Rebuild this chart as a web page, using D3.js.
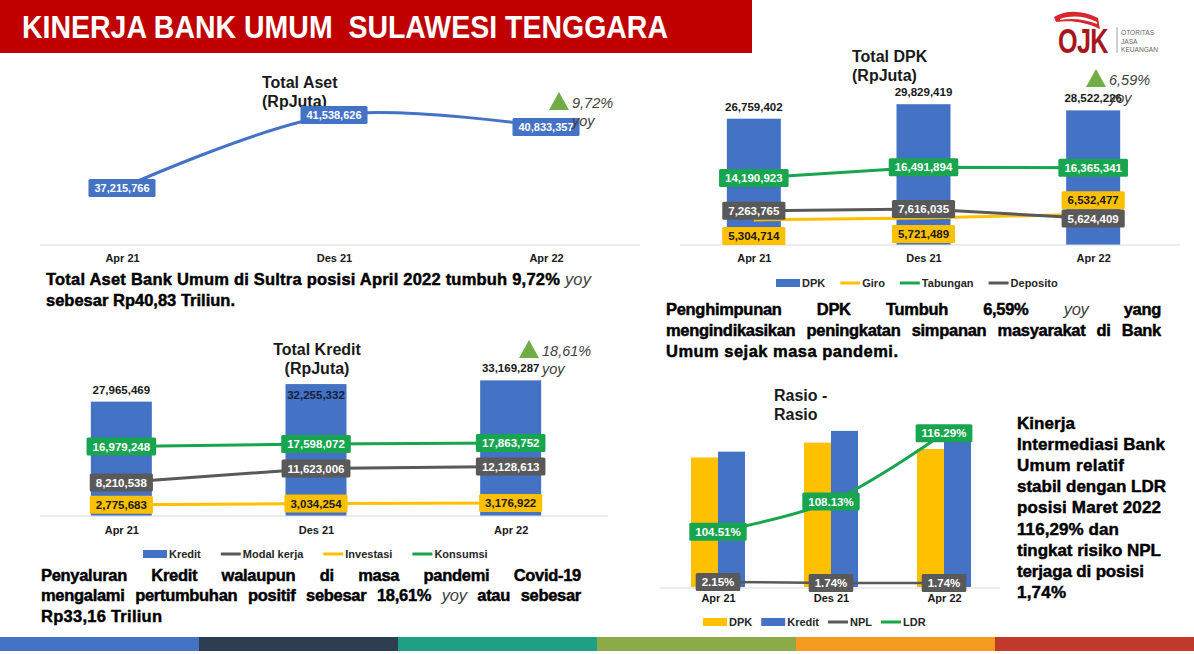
<!DOCTYPE html>
<html><head><meta charset="utf-8">
<script src="https://cdn.jsdelivr.net/npm/d3@7"></script>
<style>
body{margin:0;background:#fff;}
svg{display:block;font-family:"Liberation Sans",Arial,sans-serif;}
</style>
</head><body>
<svg id="c" width="1194" height="654"></svg>
<script>
// ---------- DATA ----------
const periods = ["Apr 21", "Des 21", "Apr 22"];
const asetValues = [37215766, 41538626, 40833357];
const dpkValues = [26759402, 29829419, 28522226];
const giroValues = [5304714, 5721489, 6532477];
const tabunganValues = [14190923, 16491894, 16365341];
const depositoValues = [7263765, 7616035, 5624409];
const kreditValues = [27965469, 32255332, 33169287];
const modalKerjaValues = [8210538, 11623006, 12128613];
const investasiValues = [2775683, 3034254, 3176922];
const konsumsiValues = [16979248, 17598072, 17863752];
const ldrValues = [104.51, 108.13, 116.29];
const nplValues = [2.15, 1.74, 1.74];
const asetGrowth = "9,72%";
const dpkGrowth = "6,59%";
const kreditGrowth = "18,61%";

// ---------- STYLE ----------
const BLUE = "#4472C4", YELLOW = "#FFC000", GREEN = "#17A54F", GRAY = "#595959";
const W = 1194, H = 654;
const fmt = d3.format(",");
const svg = d3.select("#c");
svg.append("rect").attr("width", W).attr("height", H).attr("fill", "#fff");

// header
svg.append("rect").attr("x", 0).attr("y", 0).attr("width", 752).attr("height", 53).attr("fill", "#C00000");
svg.append("text").attr("x", 22).attr("y", 38).attr("fill", "#fff")
  .attr("font-size", 32).attr("font-weight", "bold")
  .attr("textLength", 646).attr("lengthAdjust", "spacingAndGlyphs")
  .style("white-space", "pre")
  .text("KINERJA BANK UMUM  SULAWESI TENGGARA");

// OJK logo
const logo = svg.append("g");
logo.append("path").attr("d", "M1054,17 C1066,10 1082,10 1098,18 L1100,29 C1086,22 1070,20 1056,22 Z").attr("fill", "#D7262C");
logo.append("path").attr("d", "M1060,19 C1072,15 1084,16 1097,22 L1097,24 C1084,19 1072,18 1060,20 Z").attr("fill", "#fff");
logo.append("text").attr("transform", "translate(1058,53) scale(0.7,1)").attr("font-size", 36).attr("font-weight", "bold")
  .attr("fill", "#A8161D").attr("letter-spacing", -1).text("OJK");
logo.append("line").attr("x1", 1117).attr("x2", 1117).attr("y1", 27).attr("y2", 53).attr("stroke", "#888").attr("stroke-width", 0.8);
["OTORITAS", "JASA", "KEUANGAN"].forEach((s, i) => {
  logo.append("text").attr("x", 1121).attr("y", 35 + i * 8.7).attr("font-size", 6.6).attr("fill", "#666").text(s);
});

// bottom strip
const stripColors = ["#4472C4", "#2C3E50", "#1FA085", "#8CAA48", "#F39C1F", "#C0392B"];
const xs = d3.scaleBand().domain(d3.range(6)).range([0, W]);
svg.selectAll(".strip").data(stripColors).join("rect")
  .attr("x", (d, i) => xs(i)).attr("y", 637).attr("width", xs.bandwidth() + 0.5).attr("height", 14).attr("fill", d => d);

// ---------- HELPERS ----------
function valueLabel(g, x, y, text, fill, color, size) {
  const grp = g.append("g");
  const r = grp.append("rect").attr("fill", fill).attr("rx", 1.5);
  const t = grp.append("text").attr("x", x).attr("y", y).attr("dy", "0.36em").attr("text-anchor", "middle")
    .attr("font-size", size || 11.5).attr("font-weight", "bold").attr("fill", color).text(text);
  const w = t.node().getComputedTextLength();
  r.attr("x", x - w / 2 - 6).attr("y", y - 9).attr("width", w + 12).attr("height", 18);
}
function title(g, x, y, lines, anchor) {
  lines.forEach((s, i) => g.append("text").attr("x", x).attr("y", y + i * 19).attr("text-anchor", anchor || "start")
    .attr("font-size", 16).attr("font-weight", "bold").attr("fill", "#1a1a1a").text(s));
}
function axis(g, x, y, x0, x1, pad) {
  g.append("line").attr("x1", x0).attr("x2", x1).attr("y1", y).attr("y2", y).attr("stroke", "#D9D9D9").attr("stroke-width", 1.2);
  const a = g.append("g").attr("transform", `translate(0,${y})`).call(d3.axisBottom(x).tickSize(0).tickPadding(pad));
  a.select(".domain").remove();
  a.selectAll("text").attr("font-size", 11).attr("font-weight", "bold").attr("fill", "#1a1a1a")
    .attr("font-family", "Liberation Sans, Arial, sans-serif");
}
function legend(g, x0, y, items, gap) {
  let x = x0;
  items.forEach(it => {
    if (it.type === "rect") g.append("rect").attr("x", x).attr("y", y - 4).attr("width", 24).attr("height", 8).attr("fill", it.color);
    else g.append("line").attr("x1", x).attr("x2", x + 20).attr("y1", y).attr("y2", y).attr("stroke", it.color).attr("stroke-width", 3);
    const sw = it.type === "rect" ? 26 : 22;
    const t = g.append("text").attr("x", x + sw).attr("y", y).attr("dy", "0.35em").attr("font-size", 11)
      .attr("font-weight", "bold").attr("fill", "#262626").text(it.label);
    x += sw + t.node().getComputedTextLength() + gap;
  });
}
function growth(g, x, y, pct) {
  g.append("path").attr("d", `M${x},${y} L${x + 10},${y - 18} L${x + 20},${y} Z`).attr("fill", "#70AD47");
  g.append("text").attr("x", x + 23).attr("y", y - 2).attr("font-size", 14.5).attr("font-style", "italic").attr("fill", "#404040").text(pct);
  g.append("text").attr("x", x + 23).attr("y", y + 16).attr("font-size", 14.5).attr("font-style", "italic").attr("fill", "#404040").text("yoy");
}
// paragraph line: heavy bold text, fitted to the reference width
function para(g, x, y, parts, width, justify, size) {
  const t = g.append("text").attr("x", x).attr("y", y)
    .attr("font-size", size || 16.5).attr("font-weight", "bold")
    .attr("fill", "#000").attr("stroke", "#000").attr("stroke-width", 0.45).style("white-space", "pre");
  parts.forEach(p => {
    const s = t.append("tspan").text(p[0]);
    if (p[1] === "i") s.attr("font-style", "italic").attr("font-weight", "normal").attr("fill", "#404040").attr("stroke", "none");
  });
  const full = parts.map(p => p[0]).join("");
  const base = t.node().getComputedTextLength();
  if (justify) {
    const ls = -0.3;
    t.attr("letter-spacing", ls);
    const n = (full.match(/ /g) || []).length;
    t.attr("word-spacing", (width - (base + ls * full.length)) / n);
  } else if (width) {
    t.attr("letter-spacing", (width - base) / (full.length - 1));
  }
}

// ---------- CHART 1: TOTAL ASET ----------
const gA = svg.append("g");
const xA = d3.scalePoint().domain(periods).range([16, 652]).padding(0.5);
const yA = d3.scaleLinear().domain([33.84e6, 44.8e6]).range([245, 60]);
title(gA, 262, 88, ["Total Aset", "(RpJuta)"]);
axis(gA, xA, 245, 40, 640, 9);
gA.append("path").datum(asetValues)
  .attr("d", d3.line().x((d, i) => xA(periods[i])).y(d => yA(d)).curve(d3.curveCatmullRom.alpha(0.5)))
  .attr("fill", "none").attr("stroke", BLUE).attr("stroke-width", 3);
asetValues.forEach((v, i) => valueLabel(gA, xA(periods[i]), yA(v), fmt(v), BLUE, "#fff", 11));
growth(gA, 549, 110, asetGrowth);
para(gA, 46, 285, [["Total Aset Bank Umum di Sultra posisi April 2022 tumbuh "], ["9,72%"], [" yoy", "i"]], 545, false);
para(gA, 46, 306, [["sebesar Rp40,83 Triliun."]], 189, false);

// ---------- CHART 2: TOTAL DPK ----------
const gD = svg.append("g");
const xD = d3.scalePoint().domain(periods).range([669, 1178]).padding(0.5);
const yD = d3.scaleLinear().domain([0, 35e6]).range([245, 245 - 35 * 4.72]);
title(gD, 852, 62, ["Total DPK", "(RpJuta)"]);
gD.selectAll(".bar").data(dpkValues).join("rect")
  .attr("x", (d, i) => xD(periods[i]) - 27).attr("width", 54)
  .attr("y", d => yD(d)).attr("height", d => yD(0) - yD(d)).attr("fill", BLUE);
axis(gD, xD, 245, 680, 1180, 9);
const lineD = d3.line().x((d, i) => xD(periods[i])).y(d => yD(d));
[[giroValues, YELLOW], [depositoValues, GRAY], [tabunganValues, GREEN]].forEach(([vals, c]) =>
  gD.append("path").datum(vals).attr("d", lineD).attr("fill", "none").attr("stroke", c).attr("stroke-width", 3));
dpkValues.forEach((v, i) => gD.append("text").attr("x", xD(periods[i])).attr("y", yD(v) - 8).attr("text-anchor", "middle")
  .attr("font-size", 11.5).attr("font-weight", "bold").attr("fill", "#1a1a1a").text(fmt(v)));
tabunganValues.forEach((v, i) => valueLabel(gD, xD(periods[i]), yD(v), fmt(v), GREEN, "#fff"));
giroValues.forEach((v, i) => valueLabel(gD, xD(periods[i]), yD(v) + (i < 2 ? 16 : -14), fmt(v), YELLOW, "#1a1a1a"));
depositoValues.forEach((v, i) => valueLabel(gD, xD(periods[i]), yD(v), fmt(v), GRAY, "#fff"));
growth(gD, 1086, 87, dpkGrowth);
legend(gD, 776, 283, [
  { label: "DPK", type: "rect", color: BLUE }, { label: "Giro", type: "line", color: YELLOW },
  { label: "Tabungan", type: "line", color: GREEN }, { label: "Deposito", type: "line", color: GRAY }], 15);
para(gD, 666, 315, [["Penghimpunan DPK Tumbuh 6,59% "], ["yoy", "i"], [" yang"]], 495, true);
para(gD, 666, 336, [["mengindikasikan peningkatan simpanan masyarakat di Bank"]], 495, true);
para(gD, 666, 357, [["Umum sejak masa pandemi."]], 232, false);

// ---------- CHART 3: TOTAL KREDIT ----------
const gK = svg.append("g");
const xK = d3.scalePoint().domain(periods).range([24, 608]).padding(0.5);
const yK = d3.scaleLinear().domain([0, 35e6]).range([516, 516 - 35 * 4.09]);
title(gK, 317, 355, ["Total Kredit", "(RpJuta)"], "middle");
gK.selectAll(".bar").data(kreditValues).join("rect")
  .attr("x", (d, i) => xK(periods[i]) - 30.5).attr("width", 61)
  .attr("y", d => yK(d)).attr("height", d => yK(0) - yK(d)).attr("fill", BLUE);
axis(gK, xK, 516, 40, 608, 10);
const lineK = d3.line().x((d, i) => xK(periods[i])).y(d => yK(d));
[[investasiValues, YELLOW], [modalKerjaValues, GRAY], [konsumsiValues, GREEN]].forEach(([vals, c]) =>
  gK.append("path").datum(vals).attr("d", lineK).attr("fill", "none").attr("stroke", c).attr("stroke-width", 3));
kreditValues.forEach((v, i) => gK.append("text").attr("x", xK(periods[i])).attr("y", i === 1 ? yK(v) + 15 : yK(v) - 8)
  .attr("text-anchor", "middle").attr("font-size", 11.5).attr("font-weight", "bold")
  .attr("fill", i === 1 ? "#14213D" : "#1a1a1a").text(fmt(v)));
konsumsiValues.forEach((v, i) => valueLabel(gK, xK(periods[i]), yK(v), fmt(v), GREEN, "#fff"));
modalKerjaValues.forEach((v, i) => valueLabel(gK, xK(periods[i]), yK(v), fmt(v), GRAY, "#fff"));
investasiValues.forEach((v, i) => valueLabel(gK, xK(periods[i]), yK(v), fmt(v), YELLOW, "#1a1a1a"));
growth(gK, 519, 358, kreditGrowth);
legend(gK, 143, 554, [
  { label: "Kredit", type: "rect", color: BLUE }, { label: "Modal kerja", type: "line", color: GRAY },
  { label: "Investasi", type: "line", color: YELLOW }, { label: "Konsumsi", type: "line", color: GREEN }], 20);
para(gK, 41, 581, [["Penyaluran Kredit walaupun di masa pandemi Covid-19"]], 540, true);
para(gK, 41, 601, [["mengalami pertumbuhan positif sebesar 18,61% "], ["yoy", "i"], [" atau sebesar"]], 540, true);
para(gK, 41, 622, [["Rp33,16 Triliun"]], 121, false);

// ---------- CHART 4: RASIO ----------
const gR = svg.append("g");
const xR = d3.scalePoint().domain(periods).range([661.5, 1000.5]).padding(0.5);
const yRb = d3.scaleLinear().domain([0, 35e6]).range([587, 587 - 35 * 4.84]);
const yLdr = d3.scaleLinear().domain([98, 118]).range([586, 419]);
const yNpl = d3.scaleLinear().domain([0, 100]).range([587, 353]);
title(gR, 774, 401, ["Rasio -", "Rasio"]);
gR.selectAll(".bd").data(dpkValues).join("rect")
  .attr("x", (d, i) => xR(periods[i]) - 27).attr("width", 27)
  .attr("y", d => yRb(d)).attr("height", d => yRb(0) - yRb(d)).attr("fill", YELLOW);
gR.selectAll(".bk").data(kreditValues).join("rect")
  .attr("x", (d, i) => xR(periods[i])).attr("width", 27)
  .attr("y", d => yRb(d)).attr("height", d => yRb(0) - yRb(d)).attr("fill", BLUE);
axis(gR, xR, 588, 660, 1000, 6);
gR.append("path").datum(nplValues)
  .attr("d", d3.line().x((d, i) => xR(periods[i])).y(d => yNpl(d)))
  .attr("fill", "none").attr("stroke", GRAY).attr("stroke-width", 2.5);
gR.append("path").datum(ldrValues)
  .attr("d", d3.line().x((d, i) => xR(periods[i])).y(d => yLdr(d)).curve(d3.curveCatmullRom.alpha(0.5)))
  .attr("fill", "none").attr("stroke", GREEN).attr("stroke-width", 3);
ldrValues.forEach((v, i) => valueLabel(gR, xR(periods[i]), yLdr(v), v.toFixed(2) + "%", GREEN, "#fff"));
nplValues.forEach((v, i) => valueLabel(gR, xR(periods[i]), yNpl(v), v.toFixed(2) + "%", GRAY, "#fff"));
legend(gR, 703, 622, [
  { label: "DPK", type: "rect", color: YELLOW }, { label: "Kredit", type: "rect", color: BLUE },
  { label: "NPL", type: "line", color: GRAY }, { label: "LDR", type: "line", color: GREEN }], 9);
const rasioLines = [["Kinerja", 58], ["Intermediasi Bank", 148], ["Umum relatif", 107], ["stabil dengan LDR", 149],
  ["posisi Maret 2022", 144], ["116,29% dan", 102], ["tingkat risiko NPL", 144], ["terjaga di posisi", 127], ["1,74%", 49]];
rasioLines.forEach(([s, w], i) => para(gR, 1017, 429 + i * 21.1, [[s]], w, false, 17));
</script>
</body></html>
